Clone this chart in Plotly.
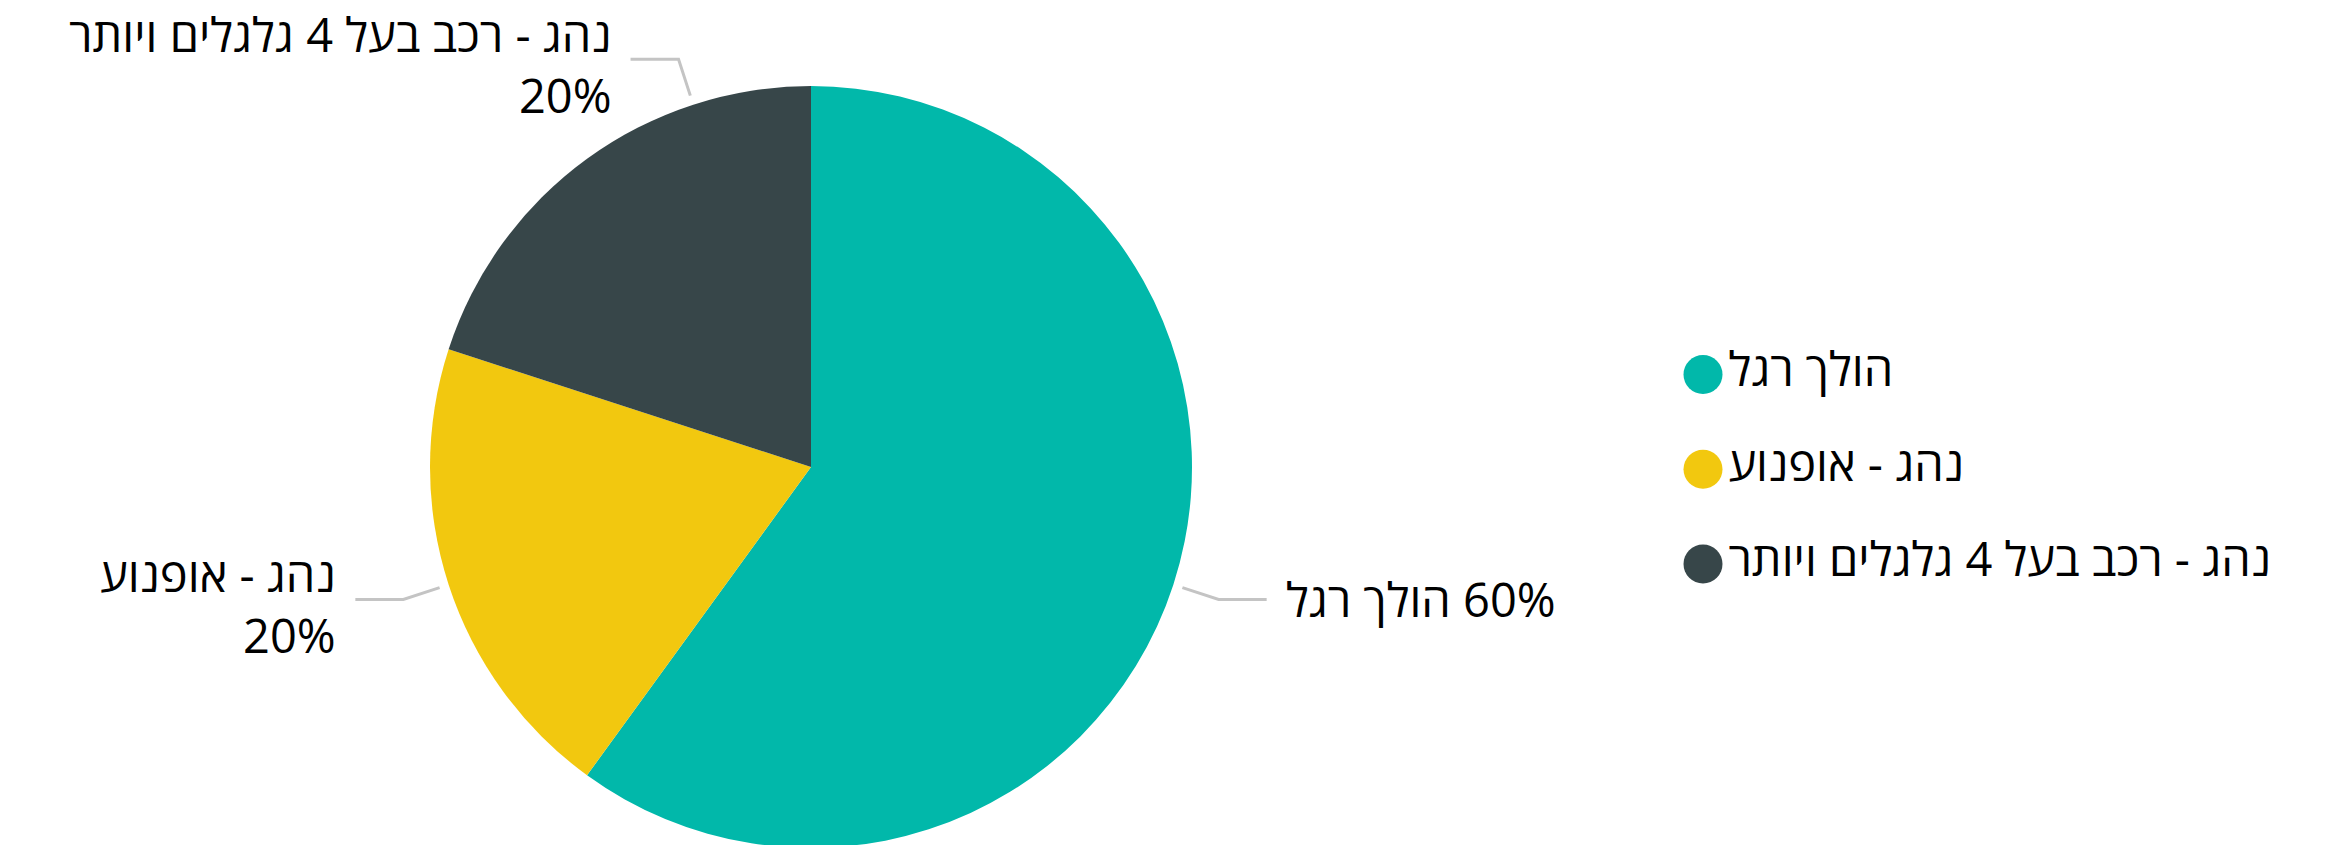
import math
import plotly.graph_objects as go

# data
labels = ["הולך רגל", "נהג - אופנוע", "נהג - רכב בעל 4 גלגלים ויותר"]
values = [60, 20, 20]
colors = ["#01B8AA", "#F2C80F", "#374649"]

W, H = 2325, 845
OFF = 8  # page body margin, figure starts at (8, 8)
font = "Open Sans, DejaVu Sans, sans-serif"
fsize = 47

# pie geometry in figure pixels (from top-left)
cx, cy, R = 811 - OFF, 467 - OFF, 381

fig = go.Figure()

fig.add_trace(go.Pie(
    labels=labels, values=values, sort=False, direction="clockwise", rotation=0,
    marker=dict(colors=colors, line=dict(width=0)),
    textinfo="none", hoverinfo="label+percent", showlegend=False,
    domain=dict(x=[(cx - R) / W, (cx + R) / W], y=[(H - cy - R) / H, (H - cy + R) / H]),
))

# leader lines + outside labels, derived from the slice angles
total = sum(values)
cum = 0
for name, v in zip(labels, values):
    a0, a1 = cum / total * 360, (cum + v) / total * 360
    cum += v
    ang = (a0 + a1) / 2
    side = 1 if math.sin(math.radians(ang)) > 0 else -1
    pct = f"{round(v / total * 100)}%"
    # keep long left labels inside the chart: slide anchor toward the top of the slice
    est_w = len(name) * 21
    while side < 0 and ang < a1 - 1:
        right = cx + R * 1.12 * math.sin(math.radians(ang)) - 48 - 17
        if right - est_w >= 25 - OFF:
            break
        ang += 0.5
    s, c = math.sin(math.radians(ang)), math.cos(math.radians(ang))
    x1, y1 = cx + R * 1.025 * s, cy - R * 1.025 * c
    x2, y2 = cx + R * 1.125 * s, cy - R * 1.125 * c
    x3 = x2 + side * 48
    fig.add_trace(go.Scatter(
        x=[x1, x2, x3], y=[y1, y2, y2], mode="lines",
        line=dict(color="#C4C4C4", width=3), hoverinfo="skip", showlegend=False,
    ))
    # LRM keeps the percentage to the right of the Hebrew name
    txt = f"{name} \u200e{pct}" if side > 0 else f"{name}<br>{pct}"
    fig.add_annotation(
        x=x3 + side * 17, y=y2, xref="x", yref="y", text=txt, showarrow=False,
        xanchor="left" if side > 0 else "right", yanchor="middle",
        align="left" if side > 0 else "right", yshift=0 if side > 0 else -5,
        font=dict(family=font, size=fsize, color="#000000"),
    )

# legend with round markers
leg_x, leg_y0, leg_dy = 1703 - OFF, 374.5 - OFF, 94.75
fig.add_trace(go.Scatter(
    x=[leg_x] * len(labels), y=[leg_y0 + i * leg_dy for i in range(len(labels))],
    mode="markers+text", text=labels, textposition="middle right",
    marker=dict(size=39, color=colors), hoverinfo="skip", showlegend=False,
    textfont=dict(family=font, size=fsize, color="#000000"),
))

fig.update_layout(
    width=W, height=H, margin=dict(l=0, r=0, t=0, b=0),
    paper_bgcolor="white", plot_bgcolor="rgba(0,0,0,0)",
    xaxis=dict(range=[0, W], visible=False, fixedrange=True),
    yaxis=dict(range=[H, 0], visible=False, fixedrange=True),
    showlegend=False,
)

fig.write_html("out.html")
